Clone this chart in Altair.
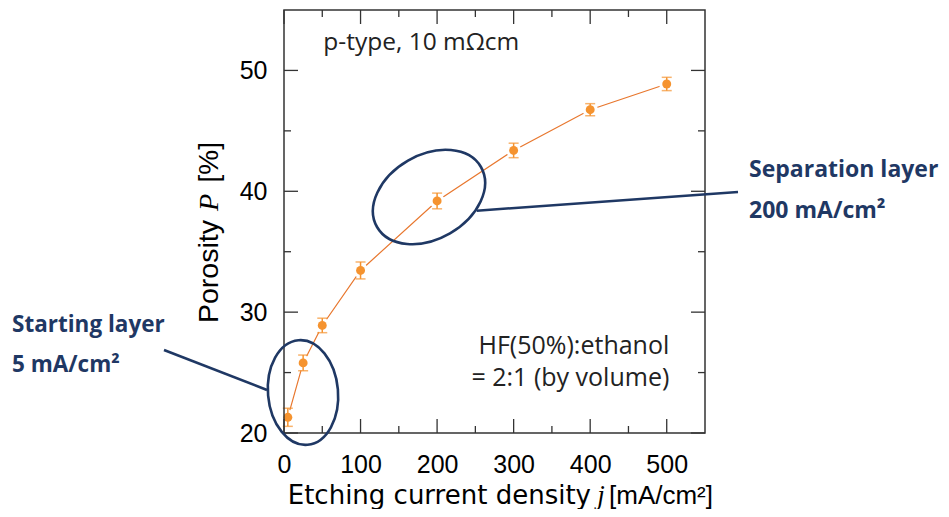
import altair as alt
import pandas as pd

# ---- data ----
current = [5, 25, 50, 100, 200, 300, 400, 500]
porosity = [21.3, 25.8, 28.9, 33.45, 39.2, 43.38, 46.75, 48.88]
error = [0.75, 0.65, 0.6, 0.7, 0.65, 0.6, 0.5, 0.55]

x_major = [0, 100, 200, 300, 400, 500]
x_minor = [50, 150, 250, 350, 450]
y_major = [20, 30, 40, 50]
y_minor = [25, 35, 45]

ORANGE = "#F5932F"
LINE_ORANGE = "#E8772E"
NAVY = "#1F3864"
FRAME = "#333333"

W, H = 421, 423
OX, OY = 284, 10  # page position of the plot's top-left corner

df = pd.DataFrame({
    "j": current,
    "P": porosity,
    "lo": [p - e for p, e in zip(porosity, error)],
    "hi": [p + e for p, e in zip(porosity, error)],
})

xs = alt.Scale(domain=[0, 550], nice=False, zero=False)
ys = alt.Scale(domain=[20, 55], nice=False, zero=False)

x_axis = alt.Axis(values=x_major, ticks=False, domain=False, grid=False,
                  labelFont="Liberation Sans", labelFontSize=25, labelColor="black",
                  labelPadding=19, labelFlush=False, title=None)
y_axis = alt.Axis(values=y_major, ticks=False, domain=False, grid=False,
                  labelFont="Liberation Sans", labelFontSize=25, labelColor="black",
                  labelPadding=17, labelFlush=False, title=None)


def X(field):
    return alt.X(field, type="quantitative", scale=xs, axis=x_axis)


def Y(field):
    return alt.Y(field, type="quantitative", scale=ys, axis=y_axis)


base = alt.Chart(df)

line = base.mark_line(color=LINE_ORANGE, strokeWidth=1.2).encode(x=X("j"), y=Y("P"))
halo = base.mark_circle(color="white", opacity=1, size=230).encode(x=X("j"), y=Y("P"))
bars = base.mark_rule(color=ORANGE, strokeWidth=1.5).encode(x=X("j"), y=Y("lo"), y2="hi")
cap_lo = base.mark_tick(color=ORANGE, orient="horizontal", size=10, thickness=1.5).encode(
    x=X("j"), y=Y("lo"))
cap_hi = base.mark_tick(color=ORANGE, orient="horizontal", size=10, thickness=1.5).encode(
    x=X("j"), y=Y("hi"))
pts = base.mark_circle(color=ORANGE, opacity=1, size=80).encode(x=X("j"), y=Y("P"))


# ---- inward ticks on all four sides ----
def yticks(vals, length):
    d = alt.Chart(pd.DataFrame({"v": vals}))
    left = d.mark_rule(color=FRAME, strokeWidth=1.3).encode(
        y=Y("v"), x=alt.value(0), x2=alt.value(length))
    right = d.mark_rule(color=FRAME, strokeWidth=1.3).encode(
        y=Y("v"), x=alt.value(W - length), x2=alt.value(W))
    return [left, right]


def xticks(vals, length):
    d = alt.Chart(pd.DataFrame({"v": vals}))
    top = d.mark_rule(color=FRAME, strokeWidth=1.3).encode(
        x=X("v"), y=alt.value(0), y2=alt.value(length))
    bottom = d.mark_rule(color=FRAME, strokeWidth=1.3).encode(
        x=X("v"), y=alt.value(H - length), y2=alt.value(H))
    return [top, bottom]


ticks = yticks(y_major, 14) + yticks(y_minor, 7) + xticks(x_major, 14) + xticks(x_minor, 7)

one = alt.Chart(pd.DataFrame({"a": [0]}))
frame = one.mark_rect(filled=False, stroke=FRAME, strokeWidth=1.5).encode(
    x=alt.value(0), x2=alt.value(W), y=alt.value(0), y2=alt.value(H))


# ---- annotations ----
def ellipse_path(r):
    k = 0.5523
    return (f"M1,0 C1,{k*r:.4f} {k},{r} 0,{r} C{-k},{r} -1,{k*r:.4f} -1,0 "
            f"C-1,{-k*r:.4f} {-k},{-r} 0,{-r} C{k},{-r} 1,{-k*r:.4f} 1,0 Z")


ell_sep = one.mark_point(shape=ellipse_path(0.7), filled=False, stroke=NAVY,
                         strokeWidth=2.6, size=14400, angle=330, opacity=1).encode(
    x=alt.value(145), y=alt.value(187))
ell_start = one.mark_point(shape=ellipse_path(0.667), filled=False, stroke=NAVY,
                           strokeWidth=2.6, size=11025, angle=85, opacity=1).encode(
    x=alt.value(19), y=alt.value(382.5))
line_sep = one.mark_rule(color=NAVY, strokeWidth=2.6).encode(
    x=alt.value(192.7), y=alt.value(200.7), x2=alt.value(454), y2=alt.value(182))
line_start = one.mark_rule(color=NAVY, strokeWidth=2.6).encode(
    x=alt.value(-120), y=alt.value(340), x2=alt.value(-17), y2=alt.value(380))


def label(text, px, py, size, color, weight="normal", align="left", font="Open Sans",
          style="normal", angle=0):
    # px, py: page pixel position of the text anchor
    return one.mark_text(text=text, align=align, baseline="alphabetic", font=font,
                         fontSize=size, fontWeight=weight, fontStyle=style, angle=angle,
                         color=color).encode(
        x=alt.value(px - OX), y=alt.value(py - OY))


texts = [
    label("Starting layer", 12, 332.3, 22.5, NAVY, "bold"),
    label("5 mA/cm²", 12, 371.7, 22.5, NAVY, "bold"),
    label("Separation layer", 749, 176.7, 23, NAVY, "bold"),
    label("200 mA/cm²", 749, 218.3, 23, NAVY, "bold"),
    label("p-type, 10 mΩcm", 323.3, 50, 24.5, "#222222"),
    label("HF(50%):ethanol", 669.3, 354.3, 25, "#222222", align="right"),
    label("= 2:1 (by volume)", 669.3, 386, 25, "#222222", align="right"),
    # x-axis title
    label("Etching current density", 591, 504, 26, "black", font="DejaVu Sans", align="right"),
    label("j", 601, 504, 27, "black", font="Liberation Serif", style="italic", align="center"),
    label("[mA/cm²]", 609, 504, 26, "black", font="Liberation Sans"),
    # y-axis title (rotated)
    label("Porosity", 218, 323, 28.5, "black", font="Liberation Sans", angle=270),
    label("P", 218, 202.5, 28, "black", font="Liberation Serif", style="italic",
          align="center", angle=270),
    label("[%]", 218, 142, 28, "black", font="Liberation Sans", align="right", angle=270),
]

chart = alt.layer(
    line, halo, bars, cap_lo, cap_hi, pts, *ticks, frame,
    ell_sep, ell_start, line_sep, line_start, *texts
).properties(
    width=W, height=H,
    padding={"left": OX - 8, "top": OY - 8, "right": 933 - (OX - 8) - W,
             "bottom": 501 - (OY - 8) - H},
    autosize=alt.AutoSizeParams(type="none"),
    background="white",
).configure_view(stroke=None)

chart.save("out.html", embed_options={"renderer": "svg", "actions": False})
